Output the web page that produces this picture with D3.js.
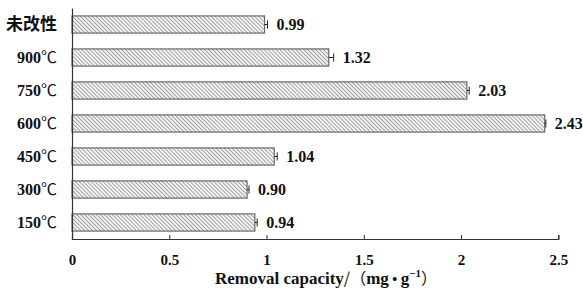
<!DOCTYPE html>
<html>
<head>
<meta charset="utf-8">
<script src="https://cdn.jsdelivr.net/npm/d3@7"></script>
<style>
body { margin: 0; background: #fff; }
text { font-family: "Liberation Serif", "Times New Roman", serif; font-weight: bold; fill: #111; }
</style>
</head>
<body>
<svg id="chart" width="583" height="290"></svg>
<script>
var categories = ["未改性", "900℃", "750℃", "600℃", "450℃", "300℃", "150℃"];
var values = [0.99, 1.32, 2.03, 2.43, 1.04, 0.90, 0.94];
var errors = [0.015, 0.025, 0.012, 0.006, 0.015, 0.01, 0.012];
var valueLabels = ["0.99", "1.32", "2.03", "2.43", "1.04", "0.90", "0.94"];
var xTicks = [0, 0.5, 1, 1.5, 2, 2.5];

var svg = d3.select('#chart');
var cjk = '"Noto Sans CJK SC", sans-serif';
var serif = '"Liberation Serif", serif';

var defs = svg.append('defs');
var pat = defs.append('pattern')
	.attr('id', 'hatch')
	.attr('patternUnits', 'userSpaceOnUse')
	.attr('width', 2.8)
	.attr('height', 2.8)
	.attr('patternTransform', 'rotate(-45)');
pat.append('rect')
	.attr('width', 2.8)
	.attr('height', 2.8)
	.attr('fill', '#f4f4f4');
pat.append('line')
	.attr('x1', 0).attr('y1', 0)
	.attr('x2', 0).attr('y2', 2.8)
	.attr('stroke', '#7a7a7a')
	.attr('stroke-width', 1.3);

var x = d3.scaleLinear().domain([0, 2.5]).range([72, 558.3]);
var y = d3.scaleBand().domain(categories).range([8, 239]).paddingInner(0.48).paddingOuter(0.24);

// bars
svg.selectAll('rect.bar')
	.data(values)
	.enter().append('rect')
	.attr('class', 'bar')
	.attr('x', x(0))
	.attr('y', function(d, i) { return y(categories[i]); })
	.attr('width', function(d) { return x(d) - x(0); })
	.attr('height', y.bandwidth())
	.attr('fill', 'url(#hatch)')
	.attr('stroke', '#6a6a6a')
	.attr('stroke-width', 1.2);

// error bars
var eb = svg.selectAll('g.err')
	.data(values)
	.enter().append('g')
	.attr('class', 'err');
eb.append('line')
	.attr('x1', function(d) { return x(d); })
	.attr('x2', function(d, i) { return x(d + errors[i]); })
	.attr('y1', function(d, i) { return y(categories[i]) + y.bandwidth() / 2; })
	.attr('y2', function(d, i) { return y(categories[i]) + y.bandwidth() / 2; })
	.attr('stroke', '#222').attr('stroke-width', 1);
eb.append('line')
	.attr('x1', function(d, i) { return x(d + errors[i]); })
	.attr('x2', function(d, i) { return x(d + errors[i]); })
	.attr('y1', function(d, i) { return y(categories[i]) + y.bandwidth() / 2 - 4; })
	.attr('y2', function(d, i) { return y(categories[i]) + y.bandwidth() / 2 + 4; })
	.attr('stroke', '#222').attr('stroke-width', 1);

// value labels
svg.selectAll('text.val')
	.data(values)
	.enter().append('text')
	.attr('class', 'val')
	.attr('x', function(d, i) { return x(d + errors[i]) + 9; })
	.attr('y', function(d, i) { return y(categories[i]) + y.bandwidth() / 2; })
	.attr('dy', '0.36em')
	.attr('font-size', 16)
	.text(function(d, i) { return valueLabels[i]; });

// x axis
var xAxis = svg.append('g')
	.attr('transform', 'translate(0,239)')
	.call(d3.axisBottom(x).tickValues(xTicks).tickSizeInner(-4).tickSizeOuter(-4).tickPadding(15)
		.tickFormat(function(d) { return String(d); }));
xAxis.select('.domain').attr('stroke', '#333').attr('stroke-width', 1.2);
xAxis.selectAll('.tick line').attr('stroke', '#333');
xAxis.selectAll('.tick text')
	.attr('font-size', 15)
	.attr('font-family', serif)
	.attr('font-weight', 'bold')
	.attr('fill', '#111');

// y axis
var yAxis = svg.append('g')
	.attr('transform', 'translate(72,0)')
	.call(d3.axisLeft(y).tickSize(0).tickPadding(15));
yAxis.select('.domain').attr('stroke', '#333').attr('stroke-width', 1.2);
yAxis.selectAll('.tick text')
	.attr('font-size', 16)
	.attr('font-family', serif)
	.attr('font-weight', 'bold')
	.attr('fill', '#111')
	.text(null)
	.each(function(d) {
		var t = d3.select(this);
		if (d === "未改性") {
			t.append('tspan').attr('font-family', cjk).attr('font-size', 17).text(d);
		} else {
			t.append('tspan').text(d.replace('℃', ''));
			t.append('tspan').attr('font-family', cjk).attr('font-weight', 'normal').text('℃');
		}
	});

// axis title
var title = svg.append('text')
	.attr('x', 326)
	.attr('y', 284)
	.attr('text-anchor', 'middle')
	.attr('font-size', 17);
title.append('tspan').text('Removal capacity');
title.append('tspan').attr('font-family', cjk).attr('font-weight', 'normal').attr('font-size', 16).text('/（');
title.append('tspan').text('mg');
title.append('tspan').attr('font-size', 14).text(' • ');
title.append('tspan').text('g');
title.append('tspan').attr('font-size', 11).attr('dy', -7).text('−1');
title.append('tspan').attr('dy', 7).attr('font-family', cjk).attr('font-weight', 'normal').attr('font-size', 16).text('）');
</script>
</body>
</html>
